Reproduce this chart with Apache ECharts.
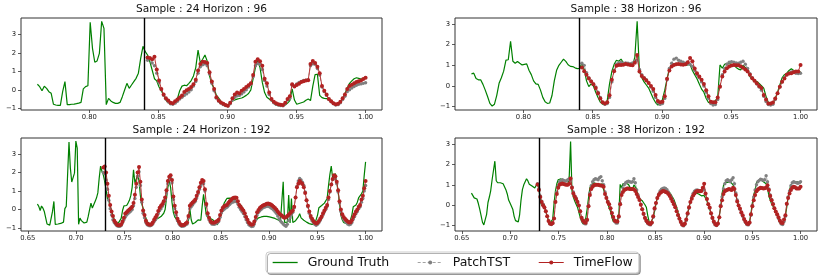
<!DOCTYPE html>
<html><head><meta charset="utf-8">
<script src="https://cdn.jsdelivr.net/npm/echarts@6/dist/echarts.min.js"></script>
<style>html,body{margin:0;padding:0;background:#fff}#c{width:822px;height:279px}</style>
</head><body><div id="c"></div>
<script>
// ---------------- data ----------------
const lookback = 48;
const xStart96 = 0.7625, xStart192 = 0.66;
const xTicks96 = [0.80, 0.85, 0.90, 0.95, 1.00];
const xTicks192 = [0.65, 0.70, 0.75, 0.80, 0.85, 0.90, 0.95, 1.00];
const yTicks = [-1, 0, 1, 2, 3];
const titles = ['Sample : 24 Horizon : 96', 'Sample : 38 Horizon : 96', 'Sample : 24 Horizon : 192', 'Sample : 38 Horizon : 192'];
const seriesNames = ['Ground Truth', 'PatchTST', 'TimeFlow'];

const gt24 = [0.30,0.17,-0.05,0.19,0.08,-0.10,-0.19,-0.78,-0.82,-0.84,
-0.84,-0.10,0.44,-0.80,-0.80,-0.78,-0.77,-0.75,-0.72,-0.68,
0.05,0.17,0.22,3.65,2.24,1.49,1.56,1.97,3.70,3.32,
-0.80,-0.46,-0.60,-0.68,-0.73,-0.73,-0.68,-0.37,-0.01,0.35,
0.08,0.26,0.44,0.62,0.90,1.70,2.35,2.06,
1.88,1.52,1.07,0.60,0.48,0.15,-0.05,-0.30,-0.55,-0.70,
-0.73,-0.72,-0.68,-0.48,-0.05,0.20,0.25,0.22,0.35,0.50,
0.75,1.20,2.15,1.45,1.65,1.88,1.55,0.75,0.30,0.08,
-0.30,-0.45,-0.65,-0.75,-0.80,-0.82,-0.70,-0.60,-0.55,-0.50,
-0.47,-0.44,-0.38,-0.30,-0.20,0.00,0.60,1.20,1.55,1.20,
0.40,-0.15,-0.40,-0.50,-0.60,-0.72,-0.83,-0.86,-0.86,-0.85,
-0.82,-0.72,-0.58,0.05,-0.55,-0.78,-0.74,-0.70,-0.66,-0.56,
-0.50,-0.58,0.20,0.82,0.84,-0.30,-0.42,-0.46,-0.48,-0.50,
-0.57,-0.70,-0.80,-0.82,-0.72,-0.45,-0.20,0.10,0.35,0.48,
0.60,0.65,0.62,0.58,0.60,0.62,0.55,0.45,0.35,0.30,
0.25,0.15,0.00,-0.15,-0.35,-0.55,-0.70,-0.80,-0.85,-0.85,
-0.75,-0.60,-0.50,-0.45,-0.42,-0.40,-0.38,-0.37,-0.36,-0.37,
-0.38,-0.40,-0.42,-0.44,-0.46,-0.48,-0.50,-0.55,-0.58,-0.62,
-0.65,1.50,-0.70,-0.72,-0.68,0.78,-0.72,0.60,-0.70,-0.65,
-0.60,-0.55,-0.40,-0.22,-0.45,-0.52,-0.58,-0.62,-0.68,-0.72,
-0.76,-0.78,-0.80,-0.80,-0.78,-0.72,-0.30,0.10,0.18,0.22,
0.28,0.35,0.42,0.60,1.30,1.90,2.35,1.70,1.75,1.95,
1.50,0.95,0.30,-0.30,-0.55,-0.70,-0.75,-0.76,-0.74,-0.70,
-0.55,-0.30,0.15,0.20,0.25,0.40,0.65,0.75,0.85,1.00,1.85,2.58];

const patch24_96 = [1.60,1.70,1.45,1.30,0.90,0.40,0.00,-0.30,-0.50,-0.65,
-0.75,-0.78,-0.72,-0.62,-0.50,-0.40,-0.30,-0.22,-0.12,0.00,
0.20,0.45,0.90,1.25,1.35,1.40,1.30,0.85,0.35,-0.05,
-0.45,-0.62,-0.72,-0.80,-0.85,-0.88,-0.75,-0.55,-0.40,-0.32,
-0.30,-0.22,-0.12,0.00,0.15,0.30,0.70,1.30,1.42,1.38,
1.10,0.50,0.20,-0.25,-0.55,-0.70,-0.78,-0.82,-0.85,-0.86,
-0.75,-0.55,-0.45,0.25,0.20,0.32,0.40,0.45,0.50,0.52,
0.55,1.30,1.40,1.38,1.15,0.80,0.15,-0.10,-0.30,-0.52,
-0.65,-0.75,-0.82,-0.80,-0.70,-0.52,-0.35,-0.10,0.00,0.10,
0.18,0.25,0.30,0.32,0.35,0.38];

const flow24_96 = [1.74,1.72,1.65,1.78,1.10,0.50,0.05,-0.25,-0.45,-0.58,
-0.70,-0.72,-0.62,-0.52,-0.42,-0.30,-0.12,-0.02,0.05,0.15,
0.30,0.55,1.05,1.40,1.52,1.50,1.45,0.95,0.45,0.05,
-0.40,-0.58,-0.68,-0.75,-0.82,-0.86,-0.70,-0.45,-0.25,-0.15,
-0.18,-0.05,0.05,0.15,0.25,0.35,0.80,1.52,1.65,1.55,
1.30,0.60,0.35,-0.15,-0.50,-0.65,-0.73,-0.78,-0.80,-0.82,
-0.70,-0.50,-0.35,0.30,0.18,0.26,0.33,0.42,0.46,0.50,
0.52,1.40,1.56,1.45,1.25,0.90,0.20,-0.05,-0.25,-0.50,
-0.62,-0.72,-0.78,-0.75,-0.65,-0.45,-0.25,0.05,0.20,0.28,
0.35,0.42,0.46,0.50,0.58,0.65];

const patch24_192 = [2.00,1.95,1.60,1.10,0.50,0.05,-0.30,-0.55,-0.70,-0.80,
-0.88,-0.90,-0.90,-0.86,-0.72,-0.55,-0.40,-0.30,-0.22,-0.15,
-0.08,0.00,0.20,0.60,1.20,1.80,2.05,1.30,0.40,-0.20,
-0.45,-0.70,-0.82,-0.86,-0.88,-0.85,-0.78,-0.65,-0.55,-0.42,
-0.22,-0.05,0.05,0.18,0.30,0.50,0.90,1.40,1.62,1.70,
1.45,0.55,0.05,-0.30,-0.60,-0.75,-0.85,-0.90,-0.90,-0.88,
-0.82,-0.78,-0.45,0.05,0.15,0.25,0.35,0.45,0.62,0.85,
1.10,1.30,1.45,1.40,1.00,0.20,-0.30,-0.55,-0.70,-0.78,
-0.80,-0.80,-0.76,-0.72,-0.65,-0.42,-0.18,-0.05,0.02,0.08,
0.12,0.20,0.28,0.35,0.40,0.42,0.45,0.42,0.30,0.12,
0.00,-0.10,-0.22,-0.38,-0.55,-0.70,-0.82,-0.88,-0.92,-0.90,
-0.78,-0.55,-0.30,-0.15,-0.05,0.02,0.08,0.12,0.15,0.18,
0.18,0.15,0.10,0.05,-0.02,-0.10,-0.20,-0.35,-0.50,-0.62,
-0.70,-0.78,-0.85,-0.90,-0.80,-0.60,-0.45,-0.30,-0.15,0.10,
0.65,1.25,1.55,1.68,1.60,1.48,1.30,0.95,0.50,0.15,
-0.20,-0.45,-0.60,-0.72,-0.80,-0.85,-0.80,-0.70,-0.58,-0.45,
-0.28,-0.12,0.02,0.18,0.55,0.95,1.35,1.62,1.70,1.65,
1.40,0.95,0.35,-0.10,-0.35,-0.52,-0.62,-0.70,-0.78,-0.82,
-0.80,-0.70,-0.52,-0.38,-0.22,-0.10,0.05,0.15,0.40,0.60,1.00,1.30];

const flow24_192 = [2.27,2.33,2.00,1.40,0.75,0.25,-0.10,-0.35,-0.60,-0.72,
-0.82,-0.85,-0.85,-0.80,-0.65,-0.45,-0.22,-0.14,-0.06,0.00,
0.07,0.15,0.35,0.80,1.40,2.00,2.30,1.50,0.55,-0.05,
-0.30,-0.60,-0.76,-0.80,-0.82,-0.80,-0.70,-0.55,-0.42,-0.30,
-0.08,0.10,0.20,0.30,0.45,0.65,1.05,1.55,1.78,1.85,
1.60,0.70,0.20,-0.15,-0.50,-0.65,-0.78,-0.85,-0.84,-0.82,
-0.75,-0.70,-0.35,0.20,0.30,0.38,0.45,0.55,0.75,0.95,
1.20,1.45,1.60,1.55,1.10,0.30,-0.20,-0.45,-0.62,-0.70,
-0.72,-0.70,-0.66,-0.62,-0.55,-0.30,-0.05,0.10,0.18,0.22,
0.25,0.35,0.45,0.52,0.60,0.64,0.65,0.64,0.45,0.25,
0.15,0.05,-0.05,-0.20,-0.40,-0.55,-0.70,-0.78,-0.82,-0.80,
-0.65,-0.40,-0.15,-0.02,0.08,0.15,0.20,0.24,0.28,0.32,
0.33,0.30,0.27,0.22,0.15,0.08,0.00,-0.10,-0.20,-0.28,
-0.32,-0.40,-0.45,-0.42,-0.35,-0.28,-0.20,-0.12,-0.05,0.15,
0.65,1.20,1.40,1.55,1.45,1.38,1.20,0.90,0.50,0.20,
-0.10,-0.35,-0.50,-0.62,-0.70,-0.76,-0.72,-0.62,-0.50,-0.38,
-0.20,-0.05,0.10,0.25,0.65,1.00,1.35,1.65,1.85,1.80,
1.50,1.05,0.45,0.00,-0.25,-0.40,-0.50,-0.58,-0.65,-0.70,
-0.68,-0.58,-0.40,-0.25,-0.10,0.00,0.15,0.25,0.55,0.75,1.15,1.55];

const gt38 = [0.59,0.62,0.36,0.30,0.30,0.08,-0.20,-0.51,-0.84,-0.97,
-0.88,-0.45,0.13,0.40,0.72,1.25,1.27,2.16,1.20,1.10,
1.19,1.10,1.02,1.05,1.07,0.76,0.55,0.25,0.10,0.08,
-0.20,-0.55,-0.76,-0.84,-0.82,-0.46,0.25,0.76,1.00,1.15,
1.30,1.19,1.03,0.95,0.94,0.88,0.84,0.85,
1.10,0.80,0.25,-0.03,0.10,0.00,-0.30,-0.55,-0.78,-0.88,
-0.89,-0.70,0.10,0.70,1.05,1.25,1.20,1.30,1.12,1.05,
1.02,1.05,0.98,1.40,3.13,0.70,0.40,0.20,0.05,-0.10,
-0.35,-0.60,-0.80,-0.92,-0.86,-0.65,-0.20,0.35,0.85,1.00,
1.06,1.10,1.08,1.04,1.00,1.00,1.02,1.05,0.75,0.55,
0.35,0.10,-0.15,-0.30,-0.60,-0.80,-0.84,-0.84,-0.70,-0.55,
1.02,0.86,1.05,1.10,1.08,1.05,1.02,0.90,0.82,0.78,
1.00,0.90,0.80,0.45,0.32,0.25,0.22,0.12,0.02,-0.10,
-0.50,-0.80,-0.92,-0.86,-0.60,-0.30,0.05,0.40,0.55,0.62,
0.75,0.83,0.75,0.72,0.70,0.68,0.62,0.57,0.40,0.28,
0.10,-0.10,-0.35,-0.55,-0.75,-0.92,-0.97,-0.88,-0.65,-0.42,
-0.10,0.16,0.40,0.55,0.62,0.60,0.57,0.55,0.49,0.46,
0.44,0.48,0.40,0.20,0.00,-0.20,-0.40,-0.65,-0.85,-0.95,
-0.97,-0.90,-0.50,-0.10,0.55,0.95,1.10,1.18,1.12,1.07,
1.15,1.18,1.00,0.78,0.50,0.20,0.00,-0.20,-0.34,-0.55,
-0.75,-0.88,-0.97,-0.95,-0.80,-0.40,0.10,0.50,0.75,1.10,
1.20,1.28,1.25,1.20,1.15,1.23,1.05,0.85,0.45,0.25,
0.05,-0.05,-0.20,-0.30,-0.50,-0.70,-0.88,-0.97,-0.95,-0.82,
-0.50,-0.10,0.40,0.74,1.00,1.10,1.15,1.16,1.15,1.14,1.12,1.07];

const patch38_96 = [1.10,1.00,0.65,0.40,0.25,0.10,-0.05,-0.30,-0.55,-0.80,
-0.89,-0.85,-0.55,0.20,0.75,1.05,1.12,1.15,1.10,1.12,
1.10,1.08,1.12,1.20,1.25,0.80,0.55,0.40,0.30,0.15,
-0.05,-0.25,-0.55,-0.80,-0.89,-0.85,-0.60,0.30,0.85,1.10,
1.30,1.35,1.25,1.20,1.15,1.10,1.08,1.05,0.95,0.75,
0.55,0.40,0.20,0.00,-0.30,-0.60,-0.85,-0.92,-0.90,-0.65,
0.00,0.55,0.85,1.05,1.15,1.18,1.15,1.12,1.10,1.15,
1.20,1.05,0.85,0.60,0.40,0.25,0.10,-0.05,-0.20,-0.50,
-0.75,-0.90,-0.92,-0.88,-0.65,-0.35,-0.05,0.20,0.40,0.55,
0.62,0.68,0.70,0.62,0.60,0.62];

const flow38_96 = [0.90,0.72,0.55,0.36,0.22,0.08,-0.10,-0.35,-0.60,-0.78,
-0.84,-0.78,-0.45,0.30,0.72,0.98,1.02,1.02,1.03,1.06,
1.04,1.02,1.00,1.12,1.50,0.70,0.48,0.38,0.27,0.14,
0.00,-0.15,-0.43,-0.72,-0.79,-0.76,-0.50,0.35,0.75,0.95,
1.02,1.05,1.06,1.04,1.03,1.05,1.15,1.35,1.20,0.85,
0.62,0.46,0.30,0.10,-0.20,-0.50,-0.76,-0.79,-0.78,-0.55,
-0.03,0.46,0.70,0.86,0.94,0.99,1.02,1.01,1.00,0.96,
0.88,0.80,0.70,0.55,0.38,0.25,0.13,0.00,-0.10,-0.43,
-0.65,-0.84,-0.84,-0.80,-0.60,-0.35,-0.03,0.21,0.36,0.54,
0.60,0.62,0.67,0.70,0.70,1.02];

const patch38_192 = [1.05,0.80,0.45,0.20,0.05,-0.10,-0.30,-0.55,-0.78,-0.92,
-0.95,-0.90,-0.65,0.20,0.65,0.95,1.15,1.20,1.25,1.22,
1.18,1.20,1.25,1.30,1.20,0.90,0.65,0.45,0.35,0.20,
0.00,-0.30,-0.65,-0.80,-0.90,-0.92,-0.75,0.00,0.60,0.95,
1.15,1.25,1.30,1.28,1.25,1.35,1.40,1.20,1.00,0.65,
0.40,0.20,0.05,-0.15,-0.40,-0.62,-0.80,-0.88,-0.88,-0.60,
0.10,0.60,0.85,1.00,1.10,1.15,1.18,1.15,1.12,1.15,
1.30,1.10,0.75,0.50,0.30,0.05,-0.20,-0.45,-0.65,-0.80,
-0.90,-0.95,-0.97,-0.88,-0.60,-0.20,0.10,0.35,0.55,0.70,
0.78,0.82,0.85,0.82,0.76,0.65,0.52,0.40,0.25,0.10,
-0.08,-0.28,-0.50,-0.68,-0.85,-0.98,-1.02,-0.95,-0.75,-0.45,
-0.15,0.15,0.40,0.58,0.68,0.74,0.75,0.72,0.70,0.72,
0.80,0.75,0.55,0.30,0.05,-0.15,-0.42,-0.65,-0.85,-0.97,
-1.00,-0.92,-0.60,0.00,0.40,0.80,1.05,1.20,1.25,1.20,
1.15,1.25,1.35,1.05,0.60,0.25,0.00,-0.20,-0.40,-0.55,
-0.72,-0.85,-0.95,-0.97,-0.88,-0.50,0.00,0.40,0.75,1.00,
1.15,1.22,1.28,1.25,1.22,1.25,1.45,1.15,0.80,0.50,
0.28,0.08,-0.15,-0.32,-0.48,-0.65,-0.80,-0.92,-0.95,-0.80,
-0.55,0.05,0.40,0.70,0.95,1.10,1.15,1.12,1.10,1.08,1.10,1.15];

const flow38_192 = [1.02,0.75,0.40,0.15,0.00,-0.12,-0.30,-0.55,-0.78,-0.90,
-0.92,-0.88,-0.65,0.15,0.55,0.85,1.00,1.04,1.07,1.04,
1.02,1.00,1.00,1.05,1.31,0.85,0.57,0.42,0.30,0.16,
-0.02,-0.30,-0.62,-0.75,-0.84,-0.87,-0.72,-0.05,0.50,0.80,
0.90,0.98,1.00,1.00,1.00,0.98,0.97,0.95,0.90,0.55,
0.35,0.15,0.05,-0.15,-0.38,-0.58,-0.75,-0.80,-0.80,-0.55,
0.05,0.50,0.65,0.74,0.78,0.82,0.82,0.80,0.79,0.80,
0.78,0.70,0.55,0.40,0.25,0.02,-0.20,-0.42,-0.62,-0.75,
-0.85,-0.90,-0.92,-0.85,-0.55,-0.15,0.10,0.35,0.50,0.60,
0.65,0.69,0.68,0.65,0.62,0.55,0.45,0.32,0.18,0.05,
-0.10,-0.30,-0.48,-0.65,-0.82,-0.95,-0.97,-0.90,-0.70,-0.40,
-0.10,0.15,0.32,0.48,0.57,0.66,0.69,0.68,0.68,0.70,
0.85,1.05,0.57,0.30,0.05,-0.12,-0.40,-0.62,-0.80,-0.92,
-0.97,-0.90,-0.60,-0.05,0.24,0.55,0.68,0.73,0.76,0.79,
0.77,0.74,0.85,0.80,0.50,0.18,-0.02,-0.17,-0.35,-0.50,
-0.68,-0.80,-0.90,-0.92,-0.85,-0.45,-0.05,0.24,0.50,0.68,
0.77,0.82,0.85,0.84,0.82,0.83,0.85,0.98,0.74,0.45,
0.24,0.05,-0.15,-0.31,-0.45,-0.59,-0.75,-0.87,-0.88,-0.70,
-0.50,0.07,0.35,0.57,0.75,0.85,0.90,0.88,0.82,0.82,0.82,0.90];

// ---------------- layout / styles ----------------
const FONT = '"DejaVu Sans", sans-serif';
const panels = [
  { title: titles[0], gt: gt24, patch: patch24_96,  flow: flow24_96,  xStart: xStart96,  ticks: xTicks96,  yr: [-1.09, 3.88], box: { left: 21,  top: 18,  width: 361, height: 92 }, ty: 3.5 },
  { title: titles[1], gt: gt38, patch: patch38_96,  flow: flow38_96,  xStart: xStart96,  ticks: xTicks96,  yr: [-1.16, 3.29], box: { left: 455, top: 18,  width: 362, height: 92 }, ty: 3.5 },
  { title: titles[2], gt: gt24, patch: patch24_192, flow: flow24_192, xStart: xStart192, ticks: xTicks192, yr: [-1.16, 3.87], box: { left: 21,  top: 138, width: 361, height: 93 }, ty: 124.5 },
  { title: titles[3], gt: gt38, patch: patch38_192, flow: flow38_192, xStart: xStart192, ticks: xTicks192, yr: [-1.27, 3.30], box: { left: 455, top: 138, width: 362, height: 93 }, ty: 124.5 }
];

const grid = [], xAxis = [], yAxis = [], series = [], title = [];
const axisLabelStyle = { fontSize: 6.8, fontFamily: FONT, color: '#222' };
const fmtY = v => (v < 0 ? '\u2212' + Math.abs(v) : String(v));

panels.forEach((p, k) => {
  const n = lookback + p.flow.length;
  const dx = (1 - p.xStart) / (n - 1);
  const xs = [];
  for (let i = 0; i < n; i++) xs.push(p.xStart + i * dx);
  const pad = 0.05 * (1 - p.xStart);

  grid.push(Object.assign({ show: true, borderColor: '#333', borderWidth: 1, backgroundColor: '#fff' }, p.box));
  title.push({
    text: p.title, left: p.box.left + p.box.width / 2, top: p.ty, textAlign: 'center', padding: 0,
    textStyle: { fontSize: 10.6, fontWeight: 'normal', fontFamily: FONT, color: '#111' }
  });
  xAxis.push({
    type: 'value', gridIndex: k, min: p.xStart - pad, max: 1 + pad,
    axisLine: { show: false, onZero: false }, splitLine: { show: false },
    axisTick: { show: true, length: 3, customValues: p.ticks, lineStyle: { color: '#333', width: 0.8 } },
    axisLabel: Object.assign({ customValues: p.ticks, margin: 4, formatter: v => v.toFixed(2) }, axisLabelStyle)
  });
  yAxis.push({
    type: 'value', gridIndex: k, min: p.yr[0], max: p.yr[1],
    axisLine: { show: false, onZero: false }, splitLine: { show: false },
    axisTick: { show: true, length: 3, customValues: yTicks, lineStyle: { color: '#333', width: 0.8 } },
    axisLabel: Object.assign({ customValues: yTicks, margin: 5, formatter: fmtY }, axisLabelStyle)
  });

  const lineX = xs[lookback - 1] + 0.3 * dx;
  series.push({
    name: seriesNames[0], type: 'line', xAxisIndex: k, yAxisIndex: k,
    data: p.gt.slice(0, n).map((v, i) => [xs[i], v]),
    symbol: 'none', showSymbol: false, z: 2,
    lineStyle: { color: '#008000', width: 1.2 }, itemStyle: { color: '#008000' },
    markLine: {
      silent: true, symbol: ['none', 'none'], label: { show: false },
      lineStyle: { color: '#000', width: 1.4, type: 'solid' },
      data: [{ xAxis: lineX }]
    }
  });
  series.push({
    name: seriesNames[1], type: 'line', xAxisIndex: k, yAxisIndex: k,
    data: p.patch.map((v, i) => [xs[lookback + i], v]),
    symbol: 'circle', symbolSize: 3.4, z: 3,
    lineStyle: { color: '#8a8a8a', width: 0.7, type: [3, 2] }, itemStyle: { color: '#808080' }
  });
  series.push({
    name: seriesNames[2], type: 'line', xAxisIndex: k, yAxisIndex: k,
    data: p.flow.map((v, i) => [xs[lookback + i], v]),
    symbol: 'circle', symbolSize: 4, z: 4,
    lineStyle: { color: '#b22222', width: 0.9 }, itemStyle: { color: '#b22222' }
  });
});

const chart = echarts.init(document.getElementById('c'), null, { renderer: 'canvas' });
chart.setOption({
  animation: false,
  backgroundColor: '#fff',
  title, grid, xAxis, yAxis, series,
  legend: {
    data: [
      { name: seriesNames[0], itemStyle: { opacity: 0 }, lineStyle: { width: 1.3 } },
      { name: seriesNames[1], lineStyle: { width: 0.8 } },
      { name: seriesNames[2], lineStyle: { width: 1 } }
    ],
    left: 266, top: 252, orient: 'horizontal',
    itemWidth: 25, itemHeight: 5, itemGap: 28,
    textStyle: { fontSize: 12.5, fontFamily: FONT, color: '#111', padding: [0, 0, 0, 5] },
    borderColor: '#cccccc', borderWidth: 1, borderRadius: 3, padding: [4, 6],
    backgroundColor: '#fff', shadowColor: 'rgba(0,0,0,0.3)', shadowOffsetX: 1.5, shadowOffsetY: 1.5, shadowBlur: 0
  }
});
</script></body></html>
